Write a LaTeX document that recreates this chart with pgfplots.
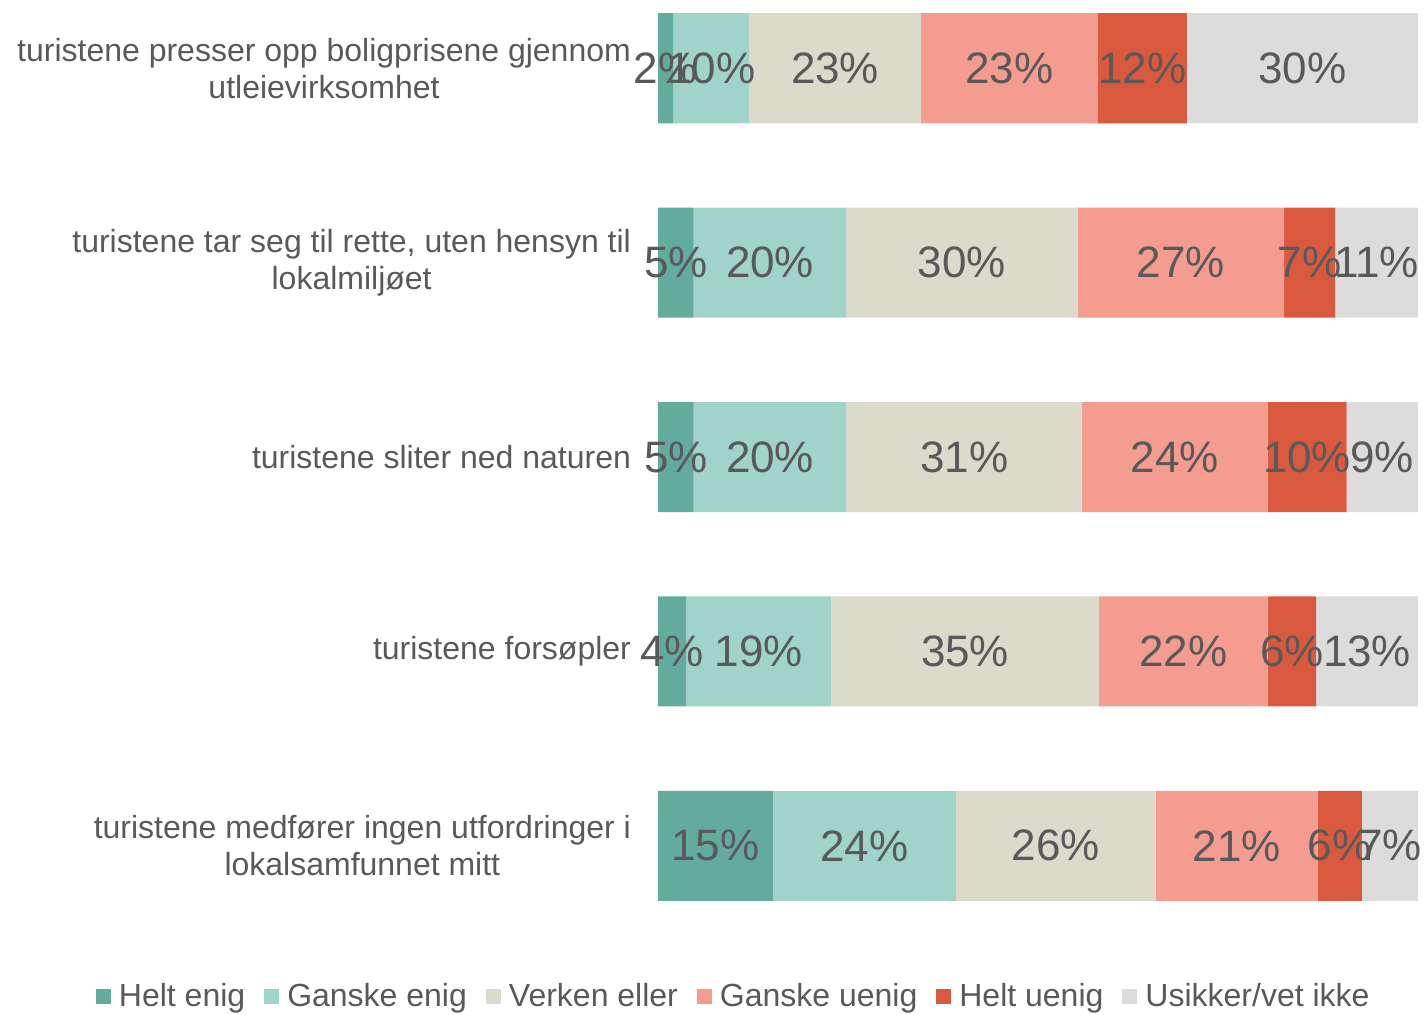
\documentclass[border=0pt]{standalone}
\usepackage{pgfplots}
\pgfplotsset{compat=1.18}
\usepackage{fontspec}
\setmainfont{Liberation Sans}

\definecolor{txt}{HTML}{595959}
\definecolor{c1}{HTML}{63AB9C}
\definecolor{c2}{HTML}{A1D4C9}
\definecolor{c3}{HTML}{DCDACB}
\definecolor{c4}{HTML}{F49C90}
\definecolor{c5}{HTML}{D9593F}
\definecolor{c6}{HTML}{DCDCDC}

\begin{document}
\begin{tikzpicture}
    \begin{axis}[
        name=ax,
        xbar stacked, bar width=55pt,
        scale only axis, width=380pt, height=471.4pt,
        xmin=0, xmax=100, ymin=-0.35, ymax=4.5, y dir=reverse,
        axis line style={draw=none}, xtick=\empty,
        ytick={0,1,2,3,4}, major tick length=0pt,
        yticklabels={{turistene presser opp boligprisene gjennom\\utleievirksomhet},
            {turistene tar seg til rette, uten hensyn til\\lokalmiljøet},
            {turistene sliter ned naturen},
            {turistene forsøpler},
            {turistene medfører ingen utfordringer i\\lokalsamfunnet mitt}},
        yticklabel style={align=center, font=\fontsize{16}{18.5}\selectfont,
            text=txt, xshift=-10pt},
        % stacked bars: nodes already sit in the middle of each segment
        point meta=rawx,
        nodes near coords={\pgfmathprintnumber[fixed,precision=0,assume math mode=true]{\pgfplotspointmeta}\%},
        every node near coord/.append style={anchor=center, text=txt,
            font=\fontsize{22}{26}\selectfont},
        legend columns=6,
        legend style={draw=none, fill=none, font=\fontsize{16}{18}\selectfont,
            text=txt, at={(0.101,-0.057)}, anchor=center,
            /tikz/every odd column/.append style={column sep=2pt},
            /tikz/every even column/.append style={column sep=7.5pt}},
        legend image code/.code={\fill[#1] (0pt,-3.75pt) rectangle (7.5pt,3.75pt);},
    ]
        \addplot[fill=c1, draw=none] coordinates {(2.0,0) (4.7,1) (4.7,2) (3.7,3) (15.1,4)};
        \addplot[fill=c2, draw=none] coordinates {(10.0,0) (20.1,1) (20.1,2) (19.1,3) (24.1,4)};
        \addplot[fill=c3, draw=none] coordinates {(22.6,0) (30.4,1) (31.0,2) (35.2,3) (26.3,4)};
        \addplot[fill=c4, draw=none] coordinates {(23.2,0) (27.2,1) (24.4,2) (22.2,3) (21.3,4)};
        \addplot[fill=c5, draw=none] coordinates {(11.8,0) (6.7,1) (10.4,2) (6.4,3) (5.8,4)};
        \addplot[fill=c6, draw=none] coordinates {(30.4,0) (10.9,1) (9.4,2) (13.4,3) (7.4,4)};
        \legend{Helt enig, Ganske enig, Verken eller, Ganske uenig, Helt uenig, Usikker/vet ikke}
    \end{axis}
    \pgfresetboundingbox
    \path[use as bounding box] ([shift={(-329pt,-35.5pt)}]ax.south west)
        rectangle ([shift={(383pt,471.5pt)}]ax.south west);
\end{tikzpicture}
\end{document}
